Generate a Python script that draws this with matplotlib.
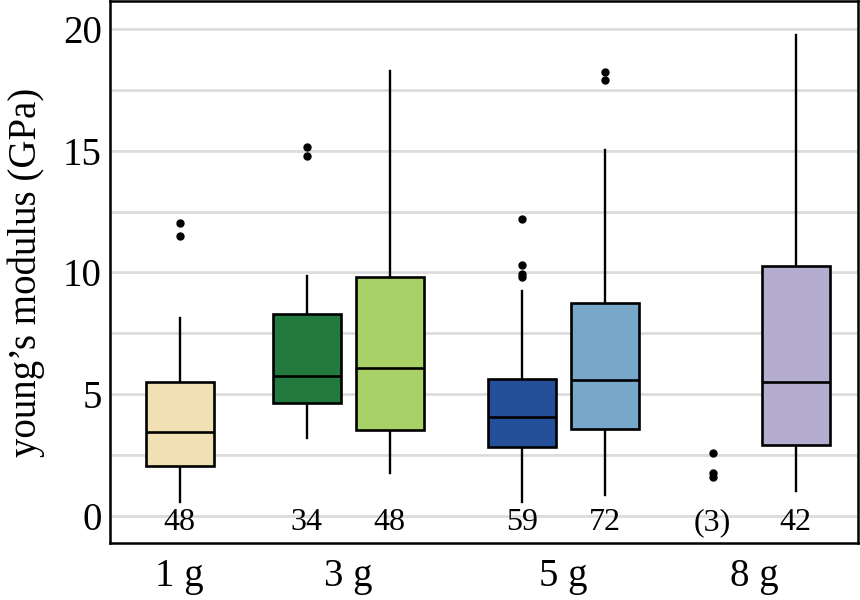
import matplotlib
matplotlib.use("Agg")
import matplotlib.pyplot as plt
import numpy as np

plt.rcParams['font.family'] = ['Liberation Serif', 'DejaVu Serif']

# ---- data ----
groups = ['1 g', '3 g', '5 g', '8 g']
box_q1 = [2.07, 4.63, 3.55, 2.84, 3.59, 2.93]
box_med = [3.48, 5.77, 6.07, 4.06, 5.58, 5.51]
box_q3 = [5.50, 8.31, 9.81, 5.62, 8.73, 10.26]
box_whislo = [0.585, 3.20, 1.76, 0.585, 0.87, 1.05]
box_whishi = [8.13, 9.84, 18.24, 9.26, 15.02, 19.73]
box_fliers = [[12.02, 11.50], [15.16, 14.76], [], [12.18, 10.29, 9.95, 9.80], [18.22, 17.91], []]
box_n = ['48', '34', '48', '59', '72', '42']
small_values = [2.60, 1.78, 1.62]
small_n = '(3)'

# ---- layout / style ----
box_pos = [0, 1.53, 2.53, 4.12, 5.12, 7.42]
small_pos = 6.42
group_pos = [0, 2.03, 4.62, 6.92]
box_colors = ['#F0E0B4', '#237A3E', '#A8D168', '#235098', '#78A8C9', '#B4ADD0']

fig = plt.figure(figsize=(8.6, 6), dpi=100)
ax = fig.add_axes([110 / 860, 57 / 600, 748 / 860, 542 / 600])

stats = []
for i in range(len(box_q1)):
    stats.append(dict(q1=box_q1[i], med=box_med[i], q3=box_q3[i],
                      whislo=box_whislo[i], whishi=box_whishi[i],
                      fliers=box_fliers[i]))

bp = ax.bxp(stats, positions=box_pos, widths=0.82, patch_artist=True,
            showcaps=False,
            boxprops=dict(linewidth=1.9, edgecolor='black'),
            medianprops=dict(color='black', linewidth=1.9),
            whiskerprops=dict(color='black', linewidth=1.7),
            flierprops=dict(marker='o', markerfacecolor='black',
                            markeredgecolor='black', markersize=5))
for patch, c in zip(bp['boxes'], box_colors):
    patch.set_facecolor(c)
    patch.set_zorder(3)
for m in bp['medians']:
    m.set_zorder(4)

ax.plot([small_pos] * len(small_values), small_values, 'o', color='black',
        markersize=5, zorder=3)

for p, t in zip(box_pos, box_n):
    ax.text(p, -0.56, t, ha='center', va='baseline', fontsize=23, zorder=4)
ax.text(small_pos, -0.56, small_n, ha='center', va='baseline', fontsize=23, zorder=4)

ax.set_xlim(-0.84, 8.17)
ax.set_ylim(-1.09, 21.13)
ax.set_yticks([0, 5, 10, 15, 20])
ax.set_yticks([2.5, 7.5, 12.5, 17.5], minor=True)
ax.set_xticks(group_pos)
ax.set_xticklabels(groups)
ax.tick_params(axis='both', which='both', length=0, labelsize=28)
ax.tick_params(axis='y', pad=6)
ax.tick_params(axis='x', pad=11)
ax.grid(True, axis='y', which='both', color='#DCDCDC', linewidth=2)
ax.set_axisbelow(True)
for s in ax.spines.values():
    s.set_linewidth(1.8)
    s.set_color('black')
ax.set_ylabel("young\u2019s modulus (GPa)", fontsize=28, labelpad=13)

fig.savefig('out.png', dpi=100)
